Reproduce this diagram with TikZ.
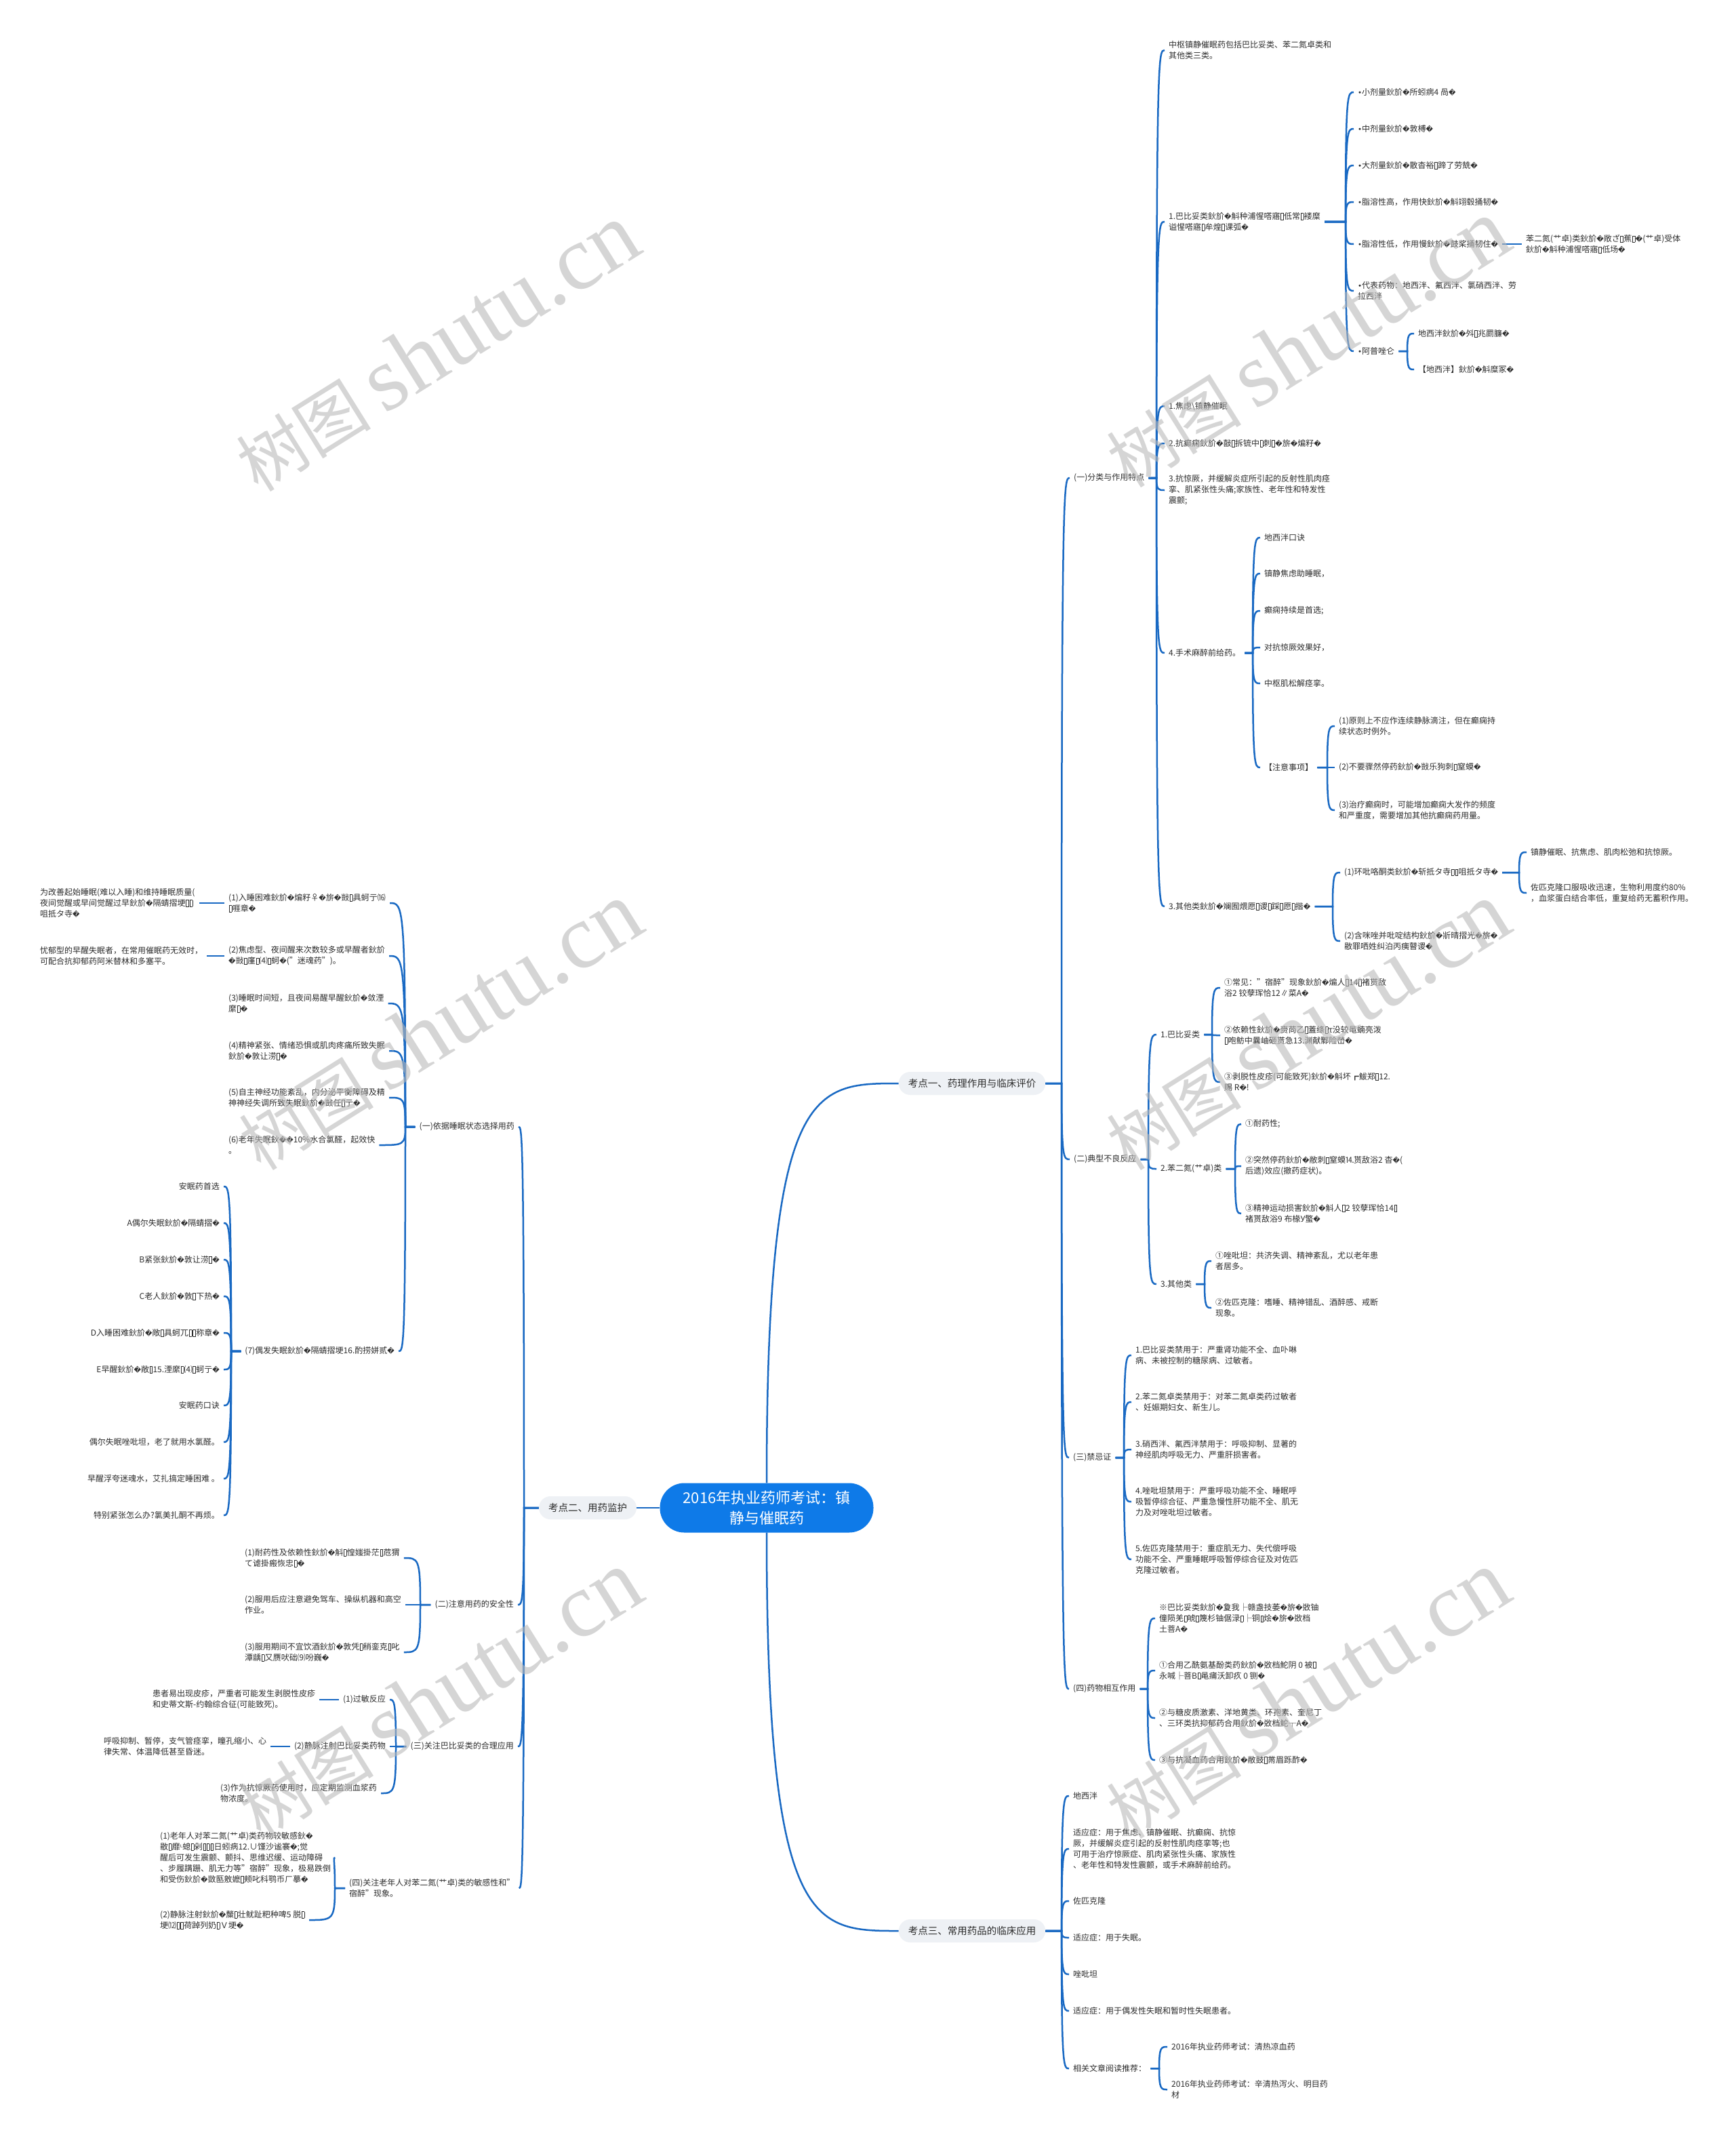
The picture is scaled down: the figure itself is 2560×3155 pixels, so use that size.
\documentclass[tikz,border=0pt]{standalone}
\usepackage{fontspec}
\setmainfont{Noto Sans CJK SC}
\newfontfamily\dv[Scale=0.85]{DejaVu Sans}
\newfontfamily\wmser{Liberation Serif}
\usetikzlibrary{calc}
\definecolor{lineblue}{RGB}{25,105,195}
\definecolor{rootblue}{RGB}{14,122,232}
\definecolor{lvlfill}{RGB}{238,241,245}
\definecolor{txt}{RGB}{45,45,45}
\definecolor{wmgray}{RGB}{185,185,185}
\newcommand\Rq{{\dv\char"FFFD}}
\newcommand\Tq{{\setlength\fboxsep{0pt}\setlength\fboxrule{0.5pt}\kern0.6pt\fbox{\rule{0pt}{0.72em}\kern0.28em}\kern0.6pt}}
\newcommand\Bq{{\dv\char"2022}}
\newcommand\rcon[3]{\draw[conn] let \p1=(#1.east), \p2=(#3.west) in (\p1) -- (#2pt,\y1) .. controls (#2pt,\y2) and ({#2pt+3pt},\y2) .. (\p2);}
\newcommand\lcon[3]{\draw[conn] let \p1=(#1.west), \p2=(#3.east) in (\p1) -- (#2pt,\y1) .. controls (#2pt,\y2) and ({#2pt-3pt},\y2) .. (\p2);}
\tikzset{
 conn/.style={draw=lineblue, line width=2.5pt},
 tn/.style={font=\fontsize{12}{16}\selectfont, text=txt, align=left, inner xsep=6pt, inner ysep=2pt},
 tw/.style={tn, anchor=west},
 te/.style={tn, anchor=east},
 lvl/.style={fill=lvlfill, rounded corners=17pt, font=\fontsize{14.5}{18}\selectfont, text=txt, minimum height=34pt, inner xsep=14pt},
 root/.style={fill=rootblue, rounded corners=36pt, text=white, font=\fontsize{22}{30}\selectfont, align=center, minimum width=315pt, minimum height=73pt},
 wmk/.style={rotate=32, text=wmgray, opacity=0.6, inner sep=0pt},
}
\begin{document}
\begin{tikzpicture}[x=1pt,y=-1pt]
\useasboundingbox (0,0) rectangle (2560,3155);
\fill[white] (0,0) rectangle (2560,3155);

% root and level 1
\node[root] (root) at (1131,2224) {2016年执业药师考试：镇\\静与催眠药};
\node[lvl] (k1) at (1434,1598) {考点一、药理作用与临床评价};
\node[lvl] (k2) at (867,2224) {考点二、用药监护};
\node[lvl] (k3) at (1434,2848) {考点三、常用药品的临床应用};
\draw[conn] (root.north) .. controls (1131,1598) and (1200,1598) .. (k1.west);
\draw[conn] (root.south) .. controls (1131,2848) and (1200,2848) .. (k3.west);
\draw[conn] (root.west) -- (k2.east);

% ===== 考点一 =====
\node[tw] (a) at (1578,705) {(一)分类与作用特点};
\node[tw] (b) at (1578,1710) {(二)典型不良反应};
\node[tw] (c) at (1577,2150) {(三)禁忌证};
\node[tw] (d) at (1577,2491) {(四)药物相互作用};
\foreach \nd in {a,b,c,d} {\rcon{k1}{1566}{\nd}}

\node[tw] (a1) at (1718,74) {中枢镇静催眠药包括巴比妥类、苯二氮卓类和\\其他类三类。};
\node[tw] (a2) at (1718,327) {1.巴比妥类鈥斺\Rq{}斛种浦惺嗒寤\Tq{}低常\Tq{}褛糜\\谥惺嗒寤\Tq{}牟煌\Tq{}课弧\Rq{}};
\node[tw] (a3) at (1718,599) {1.焦虑\textbackslash 镇静催眠};
\node[tw] (a4) at (1718,654) {2.抗癫痫鈥斺\Rq{}敼\Tq{}拆锍中\Tq{}刺\Tq{}\Rq{}旂\Rq{}煸籽\Rq{}};
\node[tw] (a5) at (1718,723) {3.抗惊厥，并缓解炎症所引起的反射性肌肉痉\\挛、肌紧张性头痛;家族性、老年性和特发性\\震颤;};
\node[tw] (a6) at (1718,963) {4.手术麻醉前给药。};
\node[tw] (a7) at (1718,1337) {3.其他类鈥斺\Rq{}斓囿煨愿\Tq{}谡\Tq{}踩\Tq{}愿\Tq{}揩\Rq{}};
\foreach \nd in {a1,a2,a3,a4,a5,a6,a7} {\rcon{a}{1706}{\nd}}

\node[tw] (a2a) at (1997,136) {\Bq{}小剂量鈥斺\Rq{}所蚓病4 咼\Rq{}};
\node[tw] (a2b) at (1997,190) {\Bq{}中剂量鈥斺\Rq{}敦榑\Rq{}};
\node[tw] (a2c) at (1997,244) {\Bq{}大剂量鈥斺\Rq{}散杳裕\Tq{}蹄了劳兟\Rq{}};
\node[tw] (a2d) at (1997,298) {\Bq{}脂溶性高，作用快鈥斺\Rq{}斛翊毂捅韧\Rq{}};
\node[tw] (a2e) at (1997,360) {\Bq{}脂溶性低，作用慢鈥斺\Rq{}鼓桨捅韧住\Rq{}};
\node[tw] (a2f) at (1997,429) {\Bq{}代表药物：地西泮、氟西泮、氯硝西泮、劳\\拉西泮};
\node[tw] (a2g) at (1997,518) {\Bq{}阿普唑仑};
\foreach \nd in {a2a,a2b,a2c,a2d,a2e,a2f,a2g} {\rcon{a2}{1985}{\nd}}
\node[tw] (a2e1) at (2245,360) {苯二氮(艹卓)类鈥斺\Rq{}敞ざ\Tq{}蕉\Tq{}\Rq{}(艹卓)受体\\鈥斺\Rq{}斛种浦惺嗒寤\Tq{}低场\Rq{}};
\draw[conn] (a2e.east) -- (a2e1.west);
\node[tw] (a2g1) at (2086,492) {地西泮鈥斺\Rq{}斘\Tq{}兆罽臁\Rq{}};
\node[tw] (a2g2) at (2086,545) {【地西泮】鈥斺\Rq{}斛糜冢\Rq{}};
\foreach \nd in {a2g1,a2g2} {\rcon{a2g}{2076}{\nd}}

\node[tw] (a6a) at (1859,793) {地西泮口诀};
\node[tw] (a6b) at (1859,846) {镇静焦虑助睡眠，};
\node[tw] (a6c) at (1859,901) {癫痫持续是首选;};
\node[tw] (a6d) at (1859,955) {对抗惊厥效果好，};
\node[tw] (a6e) at (1859,1008) {中枢肌松解痉挛。};
\node[tw] (a6f) at (1859,1132) {【注意事项】};
\foreach \nd in {a6a,a6b,a6c,a6d,a6e,a6f} {\rcon{a6}{1848}{\nd}}
\node[tw] (a6f1) at (1969,1071) {(1)原则上不应作连续静脉滴注，但在癫痫持\\续状态时例外。};
\node[tw] (a6f2) at (1969,1132) {(2)不要骤然停药鈥斺\Rq{}敱乐狗刺\Tq{}窒蟆\Rq{}};
\node[tw] (a6f3) at (1969,1195) {(3)治疗癫痫时，可能增加癫痫大发作的频度\\和严重度，需要增加其他抗癫痫药用量。};
\foreach \nd in {a6f1,a6f2,a6f3} {\rcon{a6f}{1958}{\nd}}

\node[tw] (a7a) at (1977,1287) {(1)环吡咯酮类鈥斺\Rq{}斩抵タ寺\Tq{}\Tq{}咀抵タ寺\Rq{}};
\node[tw] (a7b) at (1977,1388) {(2)含咪唑并吡啶结构鈥斺\Rq{}斨晴摺光\Rq{}旂\Rq{}\\敭罪哂姓纠泊丙痍瞽谡\Rq{}};
\foreach \nd in {a7a,a7b} {\rcon{a7}{1966}{\nd}}
\node[tw] (a7a1) at (2252,1257) {镇静催眠、抗焦虑、肌肉松弛和抗惊厥。};
\node[tw] (a7a2) at (2252,1317) {佐匹克隆口服吸收迅速，生物利用度约80\%\\，血浆蛋白结合率低，重复给药无蓄积作用。};
\foreach \nd in {a7a1,a7a2} {\rcon{a7a}{2241}{\nd}}

% (二)
\node[tw] (b1) at (1706,1526) {1.巴比妥类};
\node[tw] (b2) at (1706,1724) {2.苯二氮(艹卓)类};
\node[tw] (b3) at (1706,1894) {3.其他类};
\foreach \nd in {b1,b2,b3} {\rcon{b}{1694}{\nd}}
\node[tw] (b1a) at (1800,1457) {①常见："宿醉"现象鈥斺\Rq{}煸人\Tq{}14\Tq{}褚贳敌\\浴2 铰孽珲恰12∥菜A\Rq{}};
\node[tw] (b1b) at (1800,1527) {②依赖性鈥斺\Rq{}赍苘乙\Tq{}蓋绦\Tq{}τ没较黾蝻亮泼\\\Tq{}咆鲂中曩岫砸贳急13.渊献鄹险嵤\Rq{}};
\node[tw] (b1c) at (1800,1596) {③剥脱性皮疹(可能致死)鈥斺\Rq{}斛坏┏鮁郑\Tq{}12.\\赐 R\Rq{}!};
\foreach \nd in {b1a,b1b,b1c} {\rcon{b1}{1788}{\nd}}
\node[tw] (b2a) at (1831,1658) {①耐药性;};
\node[tw] (b2b) at (1831,1720) {②突然停药鈥斺\Rq{}敝刺\Tq{}窒蟆⒕贳敌浴2 杳\Rq{}(\\后遗)效应(撤药症状)。};
\node[tw] (b2c) at (1831,1790) {③精神运动损害鈥斺\Rq{}斛人\Tq{}2 铰孽珲恰14\Tq{}\\褚贳敌浴9 布椽У蟼\Rq{}};
\foreach \nd in {b2a,b2b,b2c} {\rcon{b2}{1822}{\nd}}
\node[tw] (b3a) at (1787,1860) {①唑吡坦：共济失调、精神紊乱，尤以老年患\\者居多。};
\node[tw] (b3b) at (1787,1929) {②佐匹克隆：嗜睡、精神错乱、酒醉感、戒断\\现象。};
\foreach \nd in {b3a,b3b} {\rcon{b3}{1777}{\nd}}

% (三)
\node[tw] (c1) at (1669,1999) {1.巴比妥类禁用于：严重肾功能不全、血卟啉\\病、未被控制的糖尿病、过敏者。};
\node[tw] (c2) at (1669,2068) {2.苯二氮卓类禁用于：对苯二氮卓类药过敏者\\、妊娠期妇女、新生儿。};
\node[tw] (c3) at (1669,2138) {3.硝西泮、氟西泮禁用于：呼吸抑制、显著的\\神经肌肉呼吸无力、严重肝损害者。};
\node[tw] (c4) at (1669,2215) {4.唑吡坦禁用于：严重呼吸功能不全、睡眠呼\\吸暂停综合征、严重急慢性肝功能不全、肌无\\力及对唑吡坦过敏者。};
\node[tw] (c5) at (1669,2300) {5.佐匹克隆禁用于：重症肌无力、失代偿呼吸\\功能不全、严重睡眠呼吸暂停综合征及对佐匹\\克隆过敏者。};
\foreach \nd in {c1,c2,c3,c4,c5} {\rcon{c}{1658}{\nd}}

% (四)
\node[tw] (d1) at (1704,2387) {※巴比妥类鈥斺\Rq{}夐我├赣盏技萎\Rq{}旂\Rq{}敚铀\\僮陨羌\Tq{}唬\Tq{}篾杉铀倨渌\Tq{}├铜\Tq{}烩\Rq{}旂\Rq{}敚档\\土菩A\Rq{}};
\node[tw] (d2) at (1704,2464) {①合用乙酰氨基酚类药鈥斺\Rq{}敚档鮀阴 0 被\Tq{}\\永喊├菩B\Tq{}黾痡沃卸疚 0 铡\Rq{}};
\node[tw] (d3) at (1704,2534) {②与糖皮质激素、洋地黄类、环孢素、奎尼丁\\、三环类抗抑郁药合用鈥斺\Rq{}敚档鮀┬A\Rq{}};
\node[tw] (d4) at (1704,2596) {③与抗凝血药合用鈥斺\Rq{}敝鼓\Tq{}黹眉跞酢\Rq{}};
\foreach \nd in {d1,d2,d3,d4} {\rcon{d}{1693}{\nd}}

% ===== 考点三 =====
\node[tw] (e1) at (1577,2649) {地西泮};
\node[tw] (e2) at (1577,2727) {适应症：用于焦虑、镇静催眠、抗癫痫、抗惊\\厥，并缓解炎症引起的反射性肌肉痉挛等;也\\可用于治疗惊厥症、肌肉紧张性头痛、家族性\\、老年性和特发性震颤，或手术麻醉前给药。};
\node[tw] (e3) at (1577,2804) {佐匹克隆};
\node[tw] (e4) at (1577,2858) {适应症：用于失眠。};
\node[tw] (e5) at (1577,2912) {唑吡坦};
\node[tw] (e6) at (1577,2966) {适应症：用于偶发性失眠和暂时性失眠患者。};
\node[tw] (e7) at (1577,3051) {相关文章阅读推荐：};
\foreach \nd in {e1,e2,e3,e4,e5,e6,e7} {\rcon{k3}{1566}{\nd}}
\node[tw] (e7a) at (1722,3019) {2016年执业药师考试：清热凉血药};
\node[tw] (e7b) at (1722,3082) {2016年执业药师考试：辛清热泻火、明目药\\材};
\foreach \nd in {e7a,e7b} {\rcon{e7}{1710}{\nd}}

% ===== 考点二 =====
\node[te] (f1) at (765,1662) {(一)依据睡眠状态选择用药};
\node[te] (f2) at (764,2367) {(二)注意用药的安全性};
\node[te] (f3) at (764,2576) {(三)关注巴比妥类的合理应用};
\node[tw] (f4) at (509,2785) {(四)关注老年人对苯二氮(艹卓)类的敏感性和"\\宿醉"现象。};
\foreach \nd in {f1,f2,f3,f4} {\lcon{k2}{773}{\nd}}

\node[tw] (f1a) at (331,1332) {(1)入睡困难鈥斺\Rq{}煸籽♀\Rq{}旂\Rq{}敱\Tq{}具蚵亍⒃\\\Tq{}啀章\Rq{}};
\node[tw] (f1b) at (331,1410) {(2)焦虑型、夜间醒来次数较多或早醒者鈥斺\\\Rq{}敱\Tq{}廑\Tq{}⑷\Tq{}蚵\Rq{}("迷魂药")。};
\node[tw] (f1c) at (331,1480) {(3)睡眠时间短，且夜间易醒早醒鈥斺\Rq{}敛湮\\縻\Tq{}\Rq{}};
\node[tw] (f1d) at (331,1550) {(4)精神紧张、情绪恐惧或肌肉疼痛所致失眠\\鈥斺\Rq{}敦让涝\Tq{}\Rq{}};
\node[tw] (f1e) at (331,1619) {(5)自主神经功能紊乱，内分泌平衡障碍及精\\神神经失调所致失眠鈥斺\Rq{}敱任\Tq{}亍\Rq{}};
\node[tw] (f1f) at (331,1689) {(6)老年失眠鈥\Rq{}\Rq{}10\%水合氯醛，起效快\\。};
\node[te] (f1g) at (588,1993) {(7)偶发失眠鈥斺\Rq{}隔蜻摺埂16.酌捞姘贰\Rq{}};
\foreach \nd in {f1a,f1b,f1c,f1d,f1e,f1f,f1g} {\lcon{f1}{598}{\nd}}
\node[tw] (f1a1) at (53,1332) {为改善起始睡眠(难以入睡)和维持睡眠质量(\\夜间觉醒或早间觉醒过早鈥斺\Rq{}隔蜻摺埂\Tq{}\Tq{}\\咀抵タ寺\Rq{}};
\draw[conn] (f1a.west) -- (f1a1.east);
\node[tw] (f1b1) at (53,1410) {忧郁型的早醒失眠者，在常用催眠药无效时，\\可配合抗抑郁药阿米替林和多塞平。};
\draw[conn] (f1b.west) -- (f1b1.east);

\node[te] (g1) at (330,1750) {安眠药首选};
\node[te] (g2) at (330,1804) {A偶尔失眠鈥斺\Rq{}隔蜻摺\Rq{}};
\node[te] (g3) at (330,1858) {B紧张鈥斺\Rq{}敦让涝\Tq{}\Rq{}};
\node[te] (g4) at (330,1912) {C老人鈥斺\Rq{}敦\Tq{}下热\Rq{}};
\node[te] (g5) at (330,1966) {D入睡困难鈥斺\Rq{}敞\Tq{}具蚵兀\Tq{}\Tq{}称章\Rq{}};
\node[te] (g6) at (330,2020) {E早醒鈥斺\Rq{}敞\Tq{}15.湮縻\Tq{}⑷\Tq{}蚵亍\Rq{}};
\node[te] (g7) at (330,2073) {安眠药口诀};
\node[te] (g8) at (330,2127) {偶尔失眠唑吡坦，老了就用水氯醛。};
\node[te] (g9) at (330,2181) {早醒浮夸迷魂水，艾扎搞定睡困难 。};
\node[te] (g10) at (330,2235) {特别紧张怎么办?氯美扎酮不再烦。};
\foreach \nd in {g1,g2,g3,g4,g5,g6,g7,g8,g9,g10} {\lcon{f1g}{341}{\nd}}

\node[tw] (f2a) at (355,2298) {(1)耐药性及依赖性鈥斺\Rq{}斛\Tq{}惶媸掛茫\Tq{}苊猬\\て谑掛瘢恢忠\Tq{}\Rq{}};
\node[tw] (f2b) at (355,2367) {(2)服用后应注意避免驾车、操纵机器和高空\\作业。};
\node[tw] (f2c) at (355,2437) {(3)服用期间不宜饮酒鈥斺\Rq{}敦凭\Tq{}稍銮克\Tq{}叱\\潭龋\Tq{}又赝吠础⑼吩巍\Rq{}};
\foreach \nd in {f2a,f2b,f2c} {\lcon{f2}{620}{\nd}}

\node[te] (f3a) at (575,2507) {(1)过敏反应};
\node[te] (f3b) at (575,2576) {(2)静脉注射巴比妥类药物};
\node[tw] (f3c) at (319,2645) {(3)作为抗惊厥药使用时，应定期监测血浆药\\物浓度。};
\foreach \nd in {f3a,f3b,f3c} {\lcon{f3}{584}{\nd}}
\node[tw] (f3a1) at (219,2507) {患者易出现皮疹，严重者可能发生剥脱性皮疹\\和史蒂文斯-约翰综合征(可能致死)。};
\draw[conn] (f3a.west) -- (f3a1.east);
\node[tw] (f3b1) at (147,2576) {呼吸抑制、暂停，支气管痉挛，瞳孔缩小、心\\律失常、体温降低甚至昏迷。};
\draw[conn] (f3b.west) -- (f3b1.east);

\node[tw] (f4a) at (230,2740) {(1)老年人对苯二氮(艹卓)类药物较敏感鈥\Rq{}\\敭\Tq{}靡{\dv ᴸ}螅\Tq{}剁\Tq{}\Tq{}\Tq{}日蚓病12.∪馑沙谧褰\Rq{};觉\\醒后可发生震颤、颤抖、思维迟缓、运动障碍\\、步履蹒跚、肌无力等"宿醉"现象，极易跌倒\\和受伤鈥斺\Rq{}敳匦敫嬷\Tq{}颊叱科鹗币ㄏ摹\Rq{}};
\node[tw] (f4b) at (230,2832) {(2)静脉注射鈥斺\Rq{}斄\Tq{}壮鱿趾粑种啤5 脱\Tq{}\\埂⑿\Tq{}\Tq{}荷踔列奶\Tq{}Ｖ埂\Rq{}};
\foreach \nd in {f4a,f4b} {\lcon{f4}{494}{\nd}}

% watermarks
\foreach \wx/\wy [count=\i] in {644/513, 1928/507, 648/1514, 1928/1514, 648/2500, 1928/2500}
  \node[wmk] (wm\i) at (\wx,\wy) {{\fontsize{100}{100}\selectfont 树图}\hspace{20pt}{\wmser\fontsize{135}{135}\selectfont shutu.cn}};
\end{tikzpicture}
\end{document}
